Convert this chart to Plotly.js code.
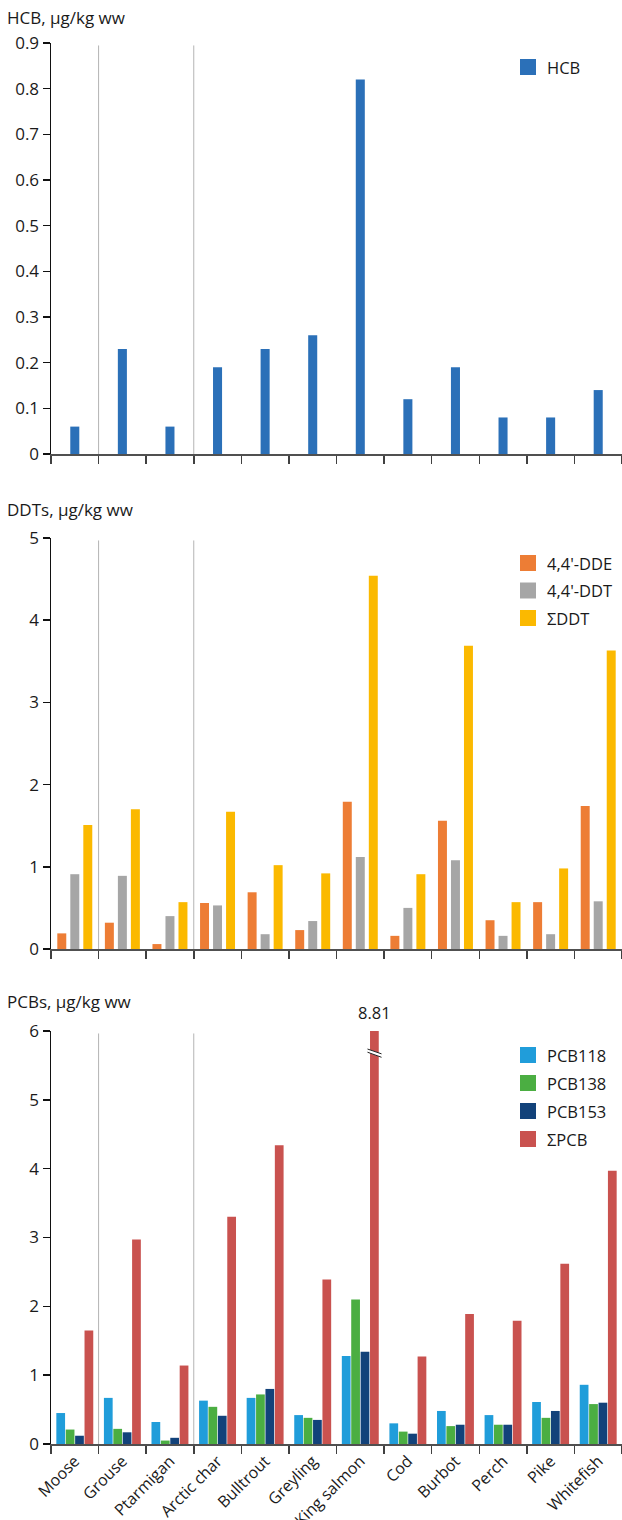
<!DOCTYPE html>
<html>
<head>
<meta charset="utf-8">
<script src="https://cdn.plot.ly/plotly-3.0.1.min.js"></script>
<style>
  html, body { margin: 0; padding: 0; background: #fff; width: 622px; height: 1520px; overflow: hidden; }
  .panel { position: absolute; left: 0; width: 622px; }
</style>
</head>
<body>
<div id="hcb" class="panel" style="top:0;height:480px"></div>
<div id="ddt" class="panel" style="top:480px;height:480px"></div>
<div id="pcb" class="panel" style="top:960px;height:560px"></div>
<script>
// Species sampled
const categories = ['Moose', 'Grouse', 'Ptarmigan', 'Arctic char', 'Bulltrout', 'Greyling',
  'King salmon', 'Cod', 'Burbot', 'Perch', 'Pike', 'Whitefish'];

// Hexachlorobenzene, µg/kg ww
const hcb = [0.06, 0.23, 0.06, 0.19, 0.23, 0.26, 0.82, 0.12, 0.19, 0.08, 0.08, 0.14];

// DDT compounds, µg/kg ww
const dde44 = [0.19, 0.32, 0.06, 0.56, 0.69, 0.23, 1.79, 0.16, 1.56, 0.35, 0.57, 1.74];
const ddt44 = [0.91, 0.89, 0.40, 0.53, 0.18, 0.34, 1.12, 0.50, 1.08, 0.16, 0.18, 0.58];
const sumDdt = [1.51, 1.70, 0.57, 1.67, 1.02, 0.92, 4.54, 0.91, 3.69, 0.57, 0.98, 3.63];

// PCB congeners and total, µg/kg ww
const pcb118 = [0.45, 0.67, 0.32, 0.63, 0.67, 0.42, 1.28, 0.30, 0.48, 0.42, 0.61, 0.86];
const pcb138 = [0.21, 0.22, 0.05, 0.54, 0.72, 0.38, 2.10, 0.18, 0.26, 0.28, 0.38, 0.58];
const pcb153 = [0.12, 0.17, 0.09, 0.41, 0.80, 0.35, 1.34, 0.15, 0.28, 0.28, 0.48, 0.60];
const sumPcb = [1.65, 2.97, 1.14, 3.30, 4.34, 2.39, 8.81, 1.27, 1.89, 1.79, 2.62, 3.97];

const FONT = 'Open Sans, Noto Sans, sans-serif';
const TXT = '#1a1a1a';
const W = 622, L = 51, R = 0;
const plotW = W - L - R;

function panel(id, opts) {
  const H = opts.height, t = opts.t, b = opts.b;
  const plotH = H - t - b;
  const px = x => (x - L) / plotW;            // pixel -> paper x
  const py = y => 1 - (y - t) / plotH;        // pixel -> paper y

  const traces = opts.series.map(s => ({
    type: 'bar', x: categories, y: s.values, name: s.name,
    marker: { color: s.color, line: { width: 0 } },
    hoverinfo: 'x+y+name', showlegend: false
  }));

  const shapes = [];
  // separators between mammals, birds and fish
  [0.5, 2.5].forEach(xv => shapes.push({
    type: 'line', xref: 'x', yref: 'paper', x0: xv, x1: xv, y0: 0, y1: 0.994,
    line: { color: '#b4b4b4', width: 1 }, layer: 'below'
  }));

  // legend: coloured squares with labels
  const annotations = [];
  opts.series.forEach((s, i) => {
    const cy = opts.legendTop + i * opts.legendStep;
    shapes.push({
      type: 'rect', xref: 'paper', yref: 'paper',
      x0: px(520), x1: px(536), y0: py(cy + 8), y1: py(cy - 8),
      fillcolor: s.color, line: { width: 0 }
    });
    annotations.push({
      xref: 'paper', yref: 'paper', x: px(545), y: py(cy),
      xanchor: 'left', yanchor: 'middle', showarrow: false,
      text: s.name, font: { family: FONT, size: 16.5, color: TXT }
    });
  });

  (opts.extra || (() => {}))(shapes, annotations);

  const layout = {
    width: W, height: H,
    margin: { l: L, r: R, t: t, b: b, pad: 0 },
    paper_bgcolor: '#fff', plot_bgcolor: 'rgba(0,0,0,0)',
    font: { family: FONT, size: 16, color: TXT },
    title: {
      text: opts.title, xref: 'container', yref: 'container',
      x: 7 / W, xanchor: 'left', y: 1 - opts.titleY / H, yanchor: 'middle',
      font: { family: FONT, size: 17, color: TXT }, pad: { t: 0, b: 0, l: 0, r: 0 }
    },
    barmode: 'group', bargap: opts.bargap, bargroupgap: opts.bargroupgap,
    showlegend: false,
    xaxis: {
      type: 'category', categoryorder: 'array', categoryarray: categories,
      range: [-0.5, categories.length - 0.5],
      showline: true, linecolor: '#505050', linewidth: 1.5,
      ticks: 'outside', tickson: 'boundaries', ticklen: 8, tickwidth: 1.5, tickcolor: '#404040',
      showticklabels: !!opts.showLabels, tickangle: -45,
      tickfont: { family: FONT, size: 16, color: TXT },
      showgrid: false, zeroline: false, fixedrange: true
    },
    yaxis: {
      range: [0, opts.ymax], dtick: opts.dtick, tick0: 0,
      showline: true, linecolor: '#111', linewidth: 1.5,
      ticks: 'outside', ticklen: 7, tickwidth: 1.5, tickcolor: '#111',
      tickfont: { family: FONT, size: 17, color: TXT },
      showgrid: false, zeroline: false, fixedrange: true
    },
    shapes: shapes, annotations: annotations
  };
  Plotly.newPlot(id, traces, layout, { displayModeBar: false, staticPlot: true });
}

panel('hcb', {
  height: 480, t: 43, b: 26, titleY: 18, title: 'HCB, µg/kg ww',
  ymax: 0.9, dtick: 0.1, bargap: 0.81, bargroupgap: 0,
  legendTop: 67, legendStep: 28,
  series: [{ name: 'HCB', values: hcb, color: '#2b70b8' }]
});

panel('ddt', {
  height: 480, t: 58, b: 11, titleY: 30, title: 'DDTs, µg/kg ww',
  ymax: 5, dtick: 1, bargap: 0.18, bargroupgap: 0.31,
  legendTop: 83, legendStep: 27.5,
  series: [
    { name: "4,4'-DDE", values: dde44, color: '#ed7d35' },
    { name: "4,4'-DDT", values: ddt44, color: '#a6a6a6' },
    { name: 'ΣDDT', values: sumDdt, color: '#fbb900' }
  ]
});

const PCB_MAX = 6;
const PCB_GAP = 0.21;
const pcbSeries = [
  { name: 'PCB118', values: pcb118, color: '#209dda' },
  { name: 'PCB138', values: pcb138, color: '#4bae42' },
  { name: 'PCB153', values: pcb153, color: '#12427a' },
  { name: 'ΣPCB', values: sumPcb, color: '#c9524f' }
];

panel('pcb', {
  height: 560, t: 71, b: 76, titleY: 42, title: 'PCBs, µg/kg ww',
  ymax: PCB_MAX, dtick: 1, bargap: PCB_GAP, bargroupgap: 0.07,
  legendTop: 95, legendStep: 28, showLabels: true,
  series: pcbSeries,
  extra: (shapes, annotations) => {
    // totals beyond the axis: value printed above a broken bar
    const slot = (1 - PCB_GAP) / pcbSeries.length;
    const off = -(1 - PCB_GAP) / 2 + slot * 3.5;
    sumPcb.forEach((v, i) => {
      if (v <= PCB_MAX) return;
      const xc = i + off;
      annotations.push({
        xref: 'x', yref: 'y', x: xc, y: PCB_MAX, yanchor: 'bottom', xanchor: 'center',
        yshift: 5, showarrow: false, text: v.toFixed(2),
        font: { family: FONT, size: 16.5, color: TXT }
      });
      const dx0 = xc - 0.145, dx1 = xc + 0.15;
      shapes.push({ type: 'line', xref: 'x', yref: 'y', x0: dx0, x1: dx1, y0: 5.715, y1: 5.643,
        line: { color: '#ffffff', width: 3.5 } });
      shapes.push({ type: 'line', xref: 'x', yref: 'y', x0: dx0, x1: dx1, y0: 5.738, y1: 5.668,
        line: { color: '#222', width: 1 } });
      shapes.push({ type: 'line', xref: 'x', yref: 'y', x0: dx0, x1: dx1, y0: 5.692, y1: 5.618,
        line: { color: '#222', width: 1 } });
    });
  }
});
</script>
</body>
</html>
